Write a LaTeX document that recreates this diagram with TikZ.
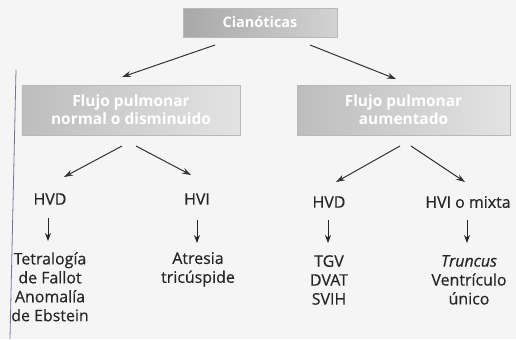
\documentclass[tikz,border=0pt]{standalone}
\usepackage{fontspec}
\setmainfont{Open Sans}
\newfontfamily\lblfont[FakeBold=0.4]{Open Sans}
\usetikzlibrary{arrows.meta}
\begin{document}
\begin{tikzpicture}[x=1bp,y=-1bp,
  hbox/.style={draw=gray!55, line width=0.6pt, left color=gray!52, right color=gray!22,
     text=white, font=\bfseries\fontsize{15.5}{18}\selectfont, align=center, inner sep=2pt},
  lbl/.style={font=\lblfont\fontsize{16}{19}\selectfont, align=center, inner sep=1pt, text=black!85},
  conn/.style={-{Stealth[length=9pt,width=6pt]}, line width=1pt, black!80},
  sconn/.style={-{Stealth[length=8pt,width=6pt]}, line width=0.9pt, black!85}]
\useasboundingbox[fill=black!4] (0,0) rectangle (516,339);
\draw[blue!30!black!55, line width=0.8pt] (16,70) -- (10,339);
% boxes
\node[hbox, minimum width=154bp, minimum height=29bp, left color=gray!68, right color=gray!35,
      font=\bfseries\fontsize{14.5}{17}\selectfont] (cia) at (260,22.5) {Cianóticas};
\node[hbox, minimum width=218bp, minimum height=50bp] (fn) at (131,110) {Flujo pulmonar\\normal o disminuido};
\node[hbox, minimum width=213bp, minimum height=50bp] (fa) at (403.5,110) {Flujo pulmonar\\aumentado};
% connectors from top
\coordinate (t1) at (215,45);
\coordinate (t2) at (310,45);
\coordinate (e1) at (122,77);
\coordinate (e2) at (396,79);
\draw[conn] (t1) -- (e1);
\draw[conn] (t2) -- (e2);
% second level labels
\node[lbl] (hvd1) at (50,199) {HVD};
\node[lbl] (hvi1) at (197,199) {HVI};
\node[lbl] (hvd2) at (329,202) {HVD};
\node[lbl] (hvi2) at (468,202) {HVI o mixta};
% connectors from boxes
\coordinate (l1) at (122,146);
\coordinate (l2) at (136,146);
\coordinate (r1) at (400,146);
\coordinate (r2) at (411,146);
\coordinate (m1) at (64,177);
\coordinate (m2) at (191,175);
\coordinate (m3) at (336,182);
\coordinate (m4) at (465,182);
\draw[conn] (l1) -- (m1);
\draw[conn] (l2) -- (m2);
\draw[conn] (r1) -- (m3);
\draw[conn] (r2) -- (m4);
% bottom labels
\node[lbl, anchor=north] (d1) at (50,251) {Tetralogía\\de Fallot\\Anomalía\\de Ebstein};
\node[lbl, anchor=north] (d2) at (198,251) {Atresia\\tricúspide};
\node[lbl, anchor=north] (d3) at (329,254) {TGV\\DVAT\\SVIH};
\node[lbl, anchor=north] (d4) at (469,254) {\textit{Truncus}\\Ventrículo\\único};
% small arrows
\coordinate (a1) at (48,218);  \coordinate (b1) at (48,241);
\coordinate (a2) at (197,220); \coordinate (b2) at (197,243);
\coordinate (a3) at (328,220); \coordinate (b3) at (328,243);
\coordinate (a4) at (467,220); \coordinate (b4) at (467,243);
\draw[sconn] (a1) -- (b1);
\draw[sconn] (a2) -- (b2);
\draw[sconn] (a3) -- (b3);
\draw[sconn] (a4) -- (b4);
\end{tikzpicture}
\end{document}
